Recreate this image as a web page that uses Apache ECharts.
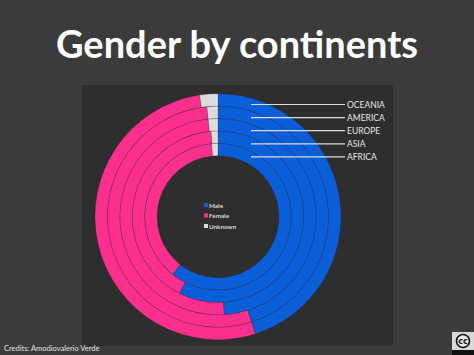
<!DOCTYPE html>
<html>
<head>
<meta charset="utf-8">
<style>
  html, body { margin: 0; padding: 0; background: #3b3b3b; }
  #chart { width: 474px; height: 355px; }
</style>
<script src="https://cdn.jsdelivr.net/npm/echarts@6/dist/echarts.min.js"></script>
</head>
<body>
<div id="chart"></div>
<script>
var genders = ['Male', 'Female', 'Unknown'];
var genderColors = ['#0a5fd9', '#fb2f8c', '#dcdcdc'];
// inner ring first
var continents = ['AFRICA', 'ASIA', 'EUROPE', 'AMERICA', 'OCEANIA'];
var maleShare = [60.6, 57.4, 49.0, 45.1, 45.1];
var femaleShare = [38.0, 41.3, 49.4, 53.3, 52.5];
var unknownShare = [1.4, 1.3, 1.6, 1.6, 2.4];

var innerRadius = 61;
var ringWidth = 12.4;
var cx = 218, cy = 216.7;

var chart = echarts.init(document.getElementById('chart'), null, { renderer: 'svg' });

var series = continents.map(function(name, i) {
  return {
    name: name,
    type: 'pie',
    center: [cx, cy],
    radius: [innerRadius + i * ringWidth, innerRadius + (i + 1) * ringWidth],
    startAngle: 90,
    clockwise: true,
    silent: true,
    label: { show: false },
    labelLine: { show: false },
    itemStyle: { borderColor: 'rgba(40,30,70,0.3)', borderWidth: 0.7 },
    data: [
      { name: genders[0], value: maleShare[i] },
      { name: genders[1], value: femaleShare[i] },
      { name: genders[2], value: unknownShare[i] }
    ]
  };
});

// leader lines and their labels, outermost ring on top
var graphics = [
  { type: 'rect', z: -1, shape: { x: 82, y: 85, width: 311, height: 261 }, style: { fill: '#2e2e2e' } }
];
continents.slice().reverse().forEach(function(name, i) {
  var y = 104.5 + i * 13.1;
  graphics.push({
    type: 'line', z: 10,
    shape: { x1: 251, y1: y, x2: 345, y2: y },
    style: { stroke: '#dddddd', lineWidth: 1.2 }
  });
  graphics.push({
    type: 'text', z: 10, x: 347, y: y,
    style: { text: name, fill: '#e6e6e6', font: '8.5px Lato', verticalAlign: 'middle' }
  });
});

// legend in the hole, marker sits tight against the text
genders.forEach(function(name, i) {
  var y = 205 + i * 10.5;
  graphics.push({
    type: 'rect', z: 10,
    shape: { x: 204, y: y - 2, width: 4, height: 4 },
    style: { fill: genderColors[i] }
  });
  graphics.push({
    type: 'text', z: 10, x: 209, y: y,
    style: { text: name, fill: '#d8d8d8', font: 'bold 6.3px Lato', verticalAlign: 'middle' }
  });
});

// credits and cc badge
graphics.push({
  type: 'text', x: 4, y: 348.5,
  style: { text: 'Credits: Amodiovalerio Verde', fill: '#e6e6e6', font: '7.5px Lato', verticalAlign: 'middle' }
});
graphics.push({ type: 'rect', shape: { x: 452, y: 332, width: 22, height: 23 }, style: { fill: '#d8d8d8' } });
graphics.push({ type: 'rect', shape: { x: 452, y: 350, width: 22, height: 5 }, style: { fill: '#111111' } });
graphics.push({ type: 'circle', shape: { cx: 463, cy: 341, r: 6.5 }, style: { fill: '#e8e8e8', stroke: '#111111', lineWidth: 1.5 } });
graphics.push({
  type: 'text', x: 463, y: 341,
  style: { text: 'cc', fill: '#111111', font: 'bold 8px "DejaVu Sans"', align: 'center', verticalAlign: 'middle' }
});

chart.setOption({
  animation: false,
  backgroundColor: '#3b3b3b',
  color: genderColors,
  title: {
    text: 'Gender by continents',
    left: 232,
    top: 19,
    textAlign: 'center',
    textStyle: { color: '#ffffff', fontFamily: 'Lato', fontWeight: 'bold', fontSize: 38 }
  },
  series: series,
  graphic: graphics
});
window.addEventListener('resize', function() { chart.resize(); });
</script>
</body>
</html>
